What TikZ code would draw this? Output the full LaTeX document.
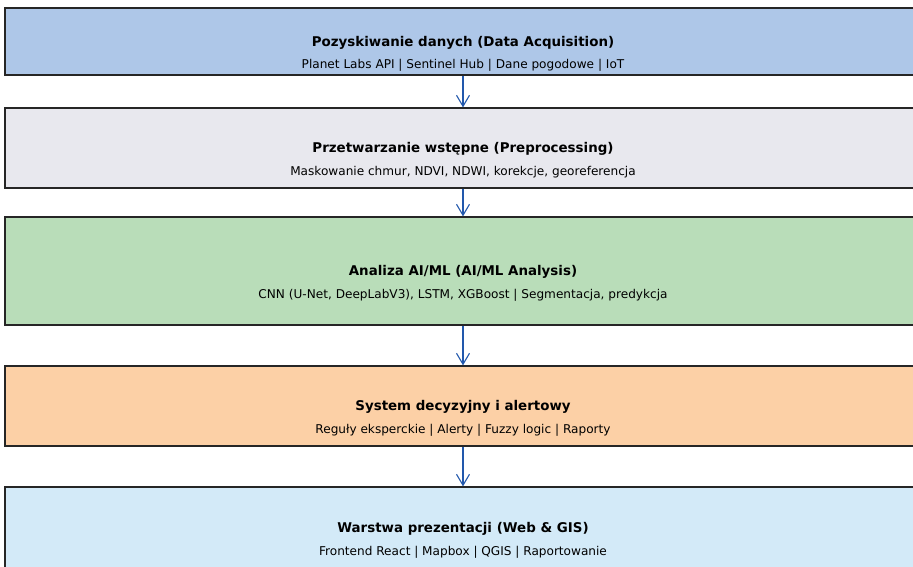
\documentclass[tikz,border=0pt]{standalone}
\usepackage{fontspec}
\setmainfont{DejaVu Sans}
\usetikzlibrary{arrows.meta}
\definecolor{acqblue}{RGB}{174,199,232}
\definecolor{prepgray}{RGB}{232,232,238}
\definecolor{aigreen}{RGB}{185,221,185}
\definecolor{alertorange}{RGB}{252,208,166}
\definecolor{webblue}{RGB}{211,234,248}
\definecolor{flowblue}{RGB}{34,88,172}

\begin{document}
\begin{tikzpicture}[x=1pt,y=-1pt,
    layer/.style={draw=black!85,line width=1.3pt,minimum width=916pt,inner sep=0pt},
    layertitle/.style={font=\bfseries\fontsize{13.4}{15}\selectfont,yshift=-1pt},
    layersub/.style={font=\fontsize{12.1}{14}\selectfont,yshift=-24pt},
    flow/.style={draw=flowblue,line width=1.1pt,-{Straight Barb[length=11pt,width=13pt]}}]
    \useasboundingbox (0,0) rectangle (913,566);
    \clip (0,0) rectangle (913,566);

    % warstwy
    \node [layer,fill=acqblue,minimum height=67pt] (acq) at (463,41.5) {};
    \node [layer,fill=prepgray,minimum height=80pt] (prep) at (463,148) {};
    \node [layer,fill=aigreen,minimum height=108pt] (ai) at (463,271) {};
    \node [layer,fill=alertorange,minimum height=80pt] (alert) at (463,406) {};
    \node [layer,fill=webblue,minimum height=82pt] (web) at (463,528) {};

    % opisy
    \node [layertitle] (acqtitle) at (acq.center) {Pozyskiwanie danych (Data Acquisition)};
    \node [layersub] (acqsub) at (acq.center) {Planet Labs API | Sentinel Hub | Dane pogodowe | IoT};
    \node [layertitle] (preptitle) at (prep.center) {Przetwarzanie wstępne (Preprocessing)};
    \node [layersub] (prepsub) at (prep.center) {Maskowanie chmur, NDVI, NDWI, korekcje, georeferencja};
    \node [layertitle] (aititle) at (ai.center) {Analiza AI/ML (AI/ML Analysis)};
    \node [layersub] (aisub) at (ai.center) {CNN (U-Net, DeepLabV3), LSTM, XGBoost | Segmentacja, predykcja};
    \node [layertitle] (alerttitle) at (alert.center) {System decyzyjny i alertowy};
    \node [layersub] (alertsub) at (alert.center) {Reguły eksperckie | Alerty | Fuzzy logic | Raporty};
    \node [layertitle] (webtitle) at (web.center) {Warstwa prezentacji (Web \& GIS)};
    \node [layersub] (websub) at (web.center) {Frontend React | Mapbox | QGIS | Raportowanie};

    % przeplyw
    \draw [flow] (acq.south) -- (prep.north);
    \draw [flow] (prep.south) -- (ai.north);
    \draw [flow] (ai.south) -- (alert.north);
    \draw [flow] (alert.south) -- (web.north);
\end{tikzpicture}
\end{document}
